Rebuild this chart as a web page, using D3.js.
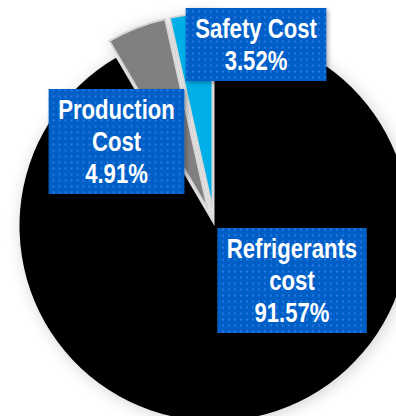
<!DOCTYPE html>
<html lang="en">
<head>
    <meta charset="UTF-8">
    <title>Cost Pie</title>
    <script src="https://d3js.org/d3.v7.min.js"></script>
    <style>
        html, body { margin: 0; padding: 0; background: #fff; }
        .lbl text {
            fill: #fff;
            font-weight: bold;
            font-size: 27px;
            text-anchor: middle;
        }
    </style>
</head>
<body>
    <svg width="396" height="416"></svg>
    <script>
        // data
        const categories = ["Refrigerants cost", "Production Cost", "Safety Cost"];
        const values = [91.57, 4.91, 3.52];
        const labelLines = [["Refrigerants", "cost", "91.57%"], ["Production", "Cost", "4.91%"], ["Safety Cost", "3.52%"]];
        const colors = ["#000000", "#808080", "#00afe8"];
        const exploded = [0, 18, 18];

        // layout of label boxes (centres relative to the pie centre)
        const labelPos = [[77.5, 54.5], [-98, -84.5], [41.5, -181.5]];

        const svg = d3.select("svg");
        const cx = 214.5, cy = 226, radius = 195;

        const defs = svg.append("defs");
        const shadow = defs.append("filter").attr("id", "shadow")
            .attr("x", "-20%").attr("y", "-20%").attr("width", "140%").attr("height", "140%");
        shadow.append("feGaussianBlur").attr("in", "SourceAlpha").attr("stdDeviation", 8);
        shadow.append("feOffset").attr("dx", 2).attr("dy", 2).attr("result", "b");
        shadow.append("feComponentTransfer").append("feFuncA").attr("type", "linear").attr("slope", 0.18);
        const m = shadow.append("feMerge");
        m.append("feMergeNode");
        m.append("feMergeNode").attr("in", "SourceGraphic");

        const boxShadow = defs.append("filter").attr("id", "boxshadow")
            .attr("x", "-20%").attr("y", "-20%").attr("width", "140%").attr("height", "140%");
        boxShadow.append("feGaussianBlur").attr("in", "SourceAlpha").attr("stdDeviation", 2);
        boxShadow.append("feOffset").attr("dx", 2).attr("dy", 2);
        boxShadow.append("feComponentTransfer").append("feFuncA").attr("type", "linear").attr("slope", 0.3);
        const m2 = boxShadow.append("feMerge");
        m2.append("feMergeNode");
        m2.append("feMergeNode").attr("in", "SourceGraphic");

        const pat = defs.append("pattern").attr("id", "dots")
            .attr("patternUnits", "userSpaceOnUse").attr("width", 6).attr("height", 6);
        pat.append("rect").attr("width", 6).attr("height", 6).attr("fill", "#035fc6");
        pat.append("rect").attr("x", 2).attr("y", 2).attr("width", 2).attr("height", 2).attr("fill", "#2579de");

        const pie = d3.pie().sort(null).value(d => d);
        const arc = d3.arc().innerRadius(0).outerRadius(radius);
        const arcs = pie(values);

        const g = svg.append("g").attr("transform", `translate(${cx},${cy})`)
            .attr("filter", "url(#shadow)");

        g.selectAll("path.slice").data(arcs).enter().append("path")
            .attr("class", "slice")
            .attr("transform", (d, i) => {
                const a = (d.startAngle + d.endAngle) / 2;
                return `translate(${Math.sin(a) * exploded[i]},${-Math.cos(a) * exploded[i]})`;
            })
            .attr("d", arc)
            .attr("fill", (d, i) => colors[i])
            .attr("stroke", (d, i) => i === 0 ? "none" : "#d6d6d6")
            .attr("stroke-width", 2);

        // labels
        const lineH = 32, padX = 9.5, padY = 4.5;
        const lg = svg.append("g").attr("transform", `translate(${cx},${cy})`);

        // check whether a narrow face is available, otherwise squeeze the regular one
        const probe = lg.append("text")
            .style("font", "bold 27px 'Liberation Sans Narrow'").text("Refrigerants");
        const probe2 = lg.append("text")
            .style("font", "bold 27px 'Liberation Sans'").text("Refrigerants");
        const narrowOk = probe.node().getComputedTextLength() < probe2.node().getComputedTextLength() * 0.9;
        probe.remove(); probe2.remove();
        const family = narrowOk ? "'Liberation Sans Narrow', 'Arial Narrow', sans-serif" : "'Liberation Sans', Arial, sans-serif";
        const squeeze = narrowOk ? 1 : 0.82;

        categories.forEach((c, i) => {
            const lines = labelLines[i];
            const box = lg.append("g").attr("class", "lbl")
                .attr("transform", `translate(${labelPos[i][0]},${labelPos[i][1]})`);
            const rect = box.append("rect").attr("fill", "url(#dots)").attr("filter", "url(#boxshadow)");
            const tg = box.append("g").attr("transform", `scale(${squeeze},1)`);
            let w = 0;
            lines.forEach((t, k) => {
                const txt = tg.append("text")
                    .style("font-family", family)
                    .attr("x", 0)
                    .attr("y", (k - (lines.length - 1) / 2) * lineH + 9.5)
                    .text(t);
                w = Math.max(w, txt.node().getComputedTextLength() * squeeze);
            });
            const bw = w + padX * 2, bh = lines.length * lineH + padY * 2;
            rect.attr("x", -bw / 2).attr("y", -bh / 2).attr("width", bw).attr("height", bh);
        });
    </script>
</body>
</html>
